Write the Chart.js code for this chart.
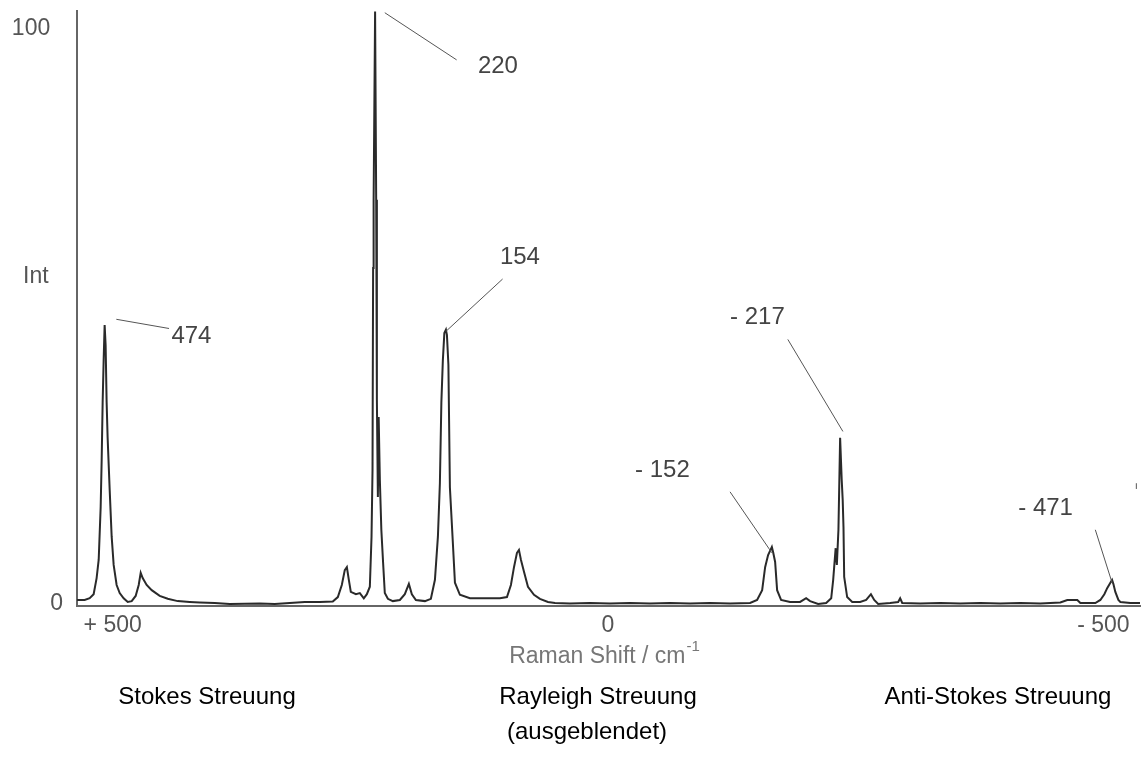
<!DOCTYPE html>
<html>
<head>
<meta charset="utf-8">
<title>Raman Spektrum</title>
<script src="https://cdn.jsdelivr.net/npm/chart.js@4.4.0/dist/chart.umd.min.js"></script>
<style>
  html, body { margin: 0; padding: 0; background: #fff; }
  #wrap { width: 1142px; height: 767px; }
</style>
</head>
<body>
<div id="wrap"><canvas id="raman" width="1142" height="767"></canvas></div>
<script>
// Raman shift in cm-1 (+500 left ... -500 right)
var ramanShift = [
  536.4, 528.3, 523.2, 519.2, 516.2, 514.1, 512.1, 511.1, 510.1, 509.1,
  508.1, 507.1, 506.1, 505.1, 503.0, 501.0, 499.0, 496.0, 492.9, 488.9,
  484.8, 480.8, 476.8, 473.7, 471.7, 469.7, 465.7, 460.6, 452.5, 444.4,
  434.3, 422.2, 412.1, 397.0, 381.8, 366.7, 351.5, 336.4, 321.2, 306.1,
  290.9, 277.8, 272.7, 268.7, 265.7, 263.6, 261.6, 259.6, 254.5, 250.5,
  246.5, 243.4, 240.4, 238.7, 237.7, 237.1, 236.6, 235.1, 234.0, 233.3,
  232.3, 231.5, 230.3, 228.8, 227.0, 225.3, 222.2, 217.2, 210.1, 205.1,
  201.0, 198.0, 193.9, 184.8, 178.8, 174.7, 171.7, 169.7, 168.2, 166.7,
  165.2, 163.6, 162.6, 161.1, 159.6, 156.6, 154.5, 149.5, 139.4, 129.3,
  119.2, 109.1, 102.0, 98.0, 94.9, 91.9, 89.9, 87.9, 84.8, 80.8,
  74.7, 68.7, 60.6, 53.5, 38.4, 18.2, -2.0, -22.2, -42.4, -62.6,
  -82.8, -103.0, -123.2, -143.4, -150.5, -155.6, -158.6, -161.6, -165.4, -166.7,
  -168.7, -170.7, -174.7, -183.8, -193.9, -200.0, -204.0, -212.1, -220.2, -225.3,
  -227.3, -228.6, -229.8, -231.0, -232.6, -234.3, -235.9, -236.9, -237.7, -238.4,
  -241.4, -246.5, -254.5, -260.6, -265.4, -268.7, -272.7, -284.8, -292.9, -294.9,
  -297.0, -315.2, -335.4, -355.6, -375.8, -396.0, -416.2, -436.4, -456.6, -463.6,
  -473.7, -476.8, -491.9, -497.0, -501.0, -504.0, -507.1, -508.8, -510.1, -512.1,
  -515.2, -517.2, -527.3, -537.4
];

// intensity, 0..100
var intensity = [
  0.7, 0.7, 1.0, 1.7, 4.5, 7.7, 16.9, 25.0, 35.1, 42.4,
  48.5, 45.0, 35.1, 29.0, 19.8, 11.7, 6.8, 3.3, 1.9, 1.0,
  0.35, 0.5, 1.4, 3.3, 5.4, 4.5, 3.3, 2.4, 1.4, 0.9,
  0.5, 0.35, 0.26, 0.17, 0.0, 0.05, 0.1, 0.0, 0.17, 0.35,
  0.35, 0.43, 1.2, 3.3, 5.9, 6.4, 4.2, 2.1, 1.7, 1.9,
  1.0, 1.7, 3.0, 11.7, 23.3, 58.4, 70.1, 103.0, 70.3, 35.5,
  18.6, 32.5, 21.6, 12.9, 7.1, 1.9, 0.9, 0.5, 0.7, 1.7,
  3.5, 1.7, 0.7, 0.5, 0.9, 4.2, 11.7, 21.0, 35.1, 42.4,
  47.1, 47.7, 46.8, 41.6, 20.3, 10.6, 3.7, 1.6, 1.0, 1.0,
  1.0, 1.0, 1.2, 3.3, 6.4, 8.9, 9.4, 7.7, 5.6, 3.0,
  1.6, 0.9, 0.35, 0.17, 0.1, 0.17, 0.1, 0.17, 0.1, 0.17,
  0.1, 0.17, 0.1, 0.17, 0.7, 2.4, 6.4, 8.5, 9.9, 9.0,
  7.3, 2.4, 0.7, 0.35, 0.35, 1.0, 0.5, 0.0, 0.17, 1.0,
  4.2, 7.1, 9.7, 6.8, 12.9, 28.9, 21.6, 18.1, 13.4, 4.7,
  1.2, 0.35, 0.35, 0.7, 1.7, 0.7, 0.0, 0.17, 0.35, 1.0,
  0.17, 0.1, 0.17, 0.1, 0.17, 0.1, 0.17, 0.1, 0.26, 0.7,
  0.7, 0.17, 0.17, 0.7, 1.7, 2.8, 3.7, 4.2, 3.5, 2.1,
  0.7, 0.35, 0.17, 0.17
];

var xTicks = [500, 0, -500];
var yTicks = [0, 100];

var peakLabels = ['474', '220', '154', '- 152', '- 217', '- 471'];
var regionLabels = ['Stokes Streuung', 'Rayleigh Streuung', 'Anti-Stokes Streuung'];

// label anchor (left / middle) and leader line for each peak, in axis units
var labelAt = [[440.7, 46.6], [131.3, 93.4], [109.1, 60.2], [-27.3, 23.3], [-123.2, 49.9], [-414.1, 16.7]];
var leaders = [
  [[496.3, 49.5], [443.1, 47.9]],
  [[225.3, 102.8], [152.8, 94.6]],
  [[163.6, 47.4], [106.4, 56.5]],
  [[-123.2, 19.5], [-165.4, 8.9]],
  [[-181.5, 46.0], [-237.1, 30.0]],
  [[-491.9, 12.9], [-508.8, 3.7]],
  [[-533.3, 21.0], [-533.3, 20.0]]
];

var FONT = '"Liberation Sans", Arial, sans-serif';

var annotate = {
  id: 'annotate',
  afterDraw: function (chart) {
    var ctx = chart.ctx;
    var sx = chart.scales.x, sy = chart.scales.y;
    ctx.save();

    ctx.strokeStyle = '#555';
    ctx.lineWidth = 1;
    leaders.forEach(function (l) {
      ctx.beginPath();
      ctx.moveTo(sx.getPixelForValue(l[0][0]), sy.getPixelForValue(l[0][1]));
      ctx.lineTo(sx.getPixelForValue(l[1][0]), sy.getPixelForValue(l[1][1]));
      ctx.stroke();
    });

    ctx.font = '24px ' + FONT;
    ctx.fillStyle = '#444';
    ctx.textAlign = 'left';
    ctx.textBaseline = 'middle';
    peakLabels.forEach(function (t, i) {
      ctx.fillText(t, sx.getPixelForValue(labelAt[i][0]), sy.getPixelForValue(labelAt[i][1]));
    });

    // y axis name sits beside the axis, not rotated
    ctx.font = '23px ' + FONT;
    ctx.fillStyle = '#555';
    ctx.fillText('Int', 23, sy.getPixelForValue(56.9));

    // x axis title with superscript
    var main = 'Raman Shift / cm', sup = '-1';
    ctx.font = '23px ' + FONT;
    var w1 = ctx.measureText(main).width;
    ctx.font = '15px ' + FONT;
    var w2 = ctx.measureText(sup).width;
    var x0 = 604 - (w1 + w2) / 2;
    ctx.fillStyle = '#777';
    ctx.font = '23px ' + FONT;
    ctx.fillText(main, x0, 657);
    ctx.font = '15px ' + FONT;
    ctx.fillText(sup, x0 + w1 + 1, 647);

    // region names under the axis
    ctx.fillStyle = '#000';
    ctx.font = '24px ' + FONT;
    ctx.textAlign = 'center';
    var cx = [207, 598, 998];
    regionLabels.forEach(function (t, i) {
      ctx.fillText(t, cx[i], 697);
    });
    ctx.fillText('(ausgeblendet)', 587, 732);

    ctx.restore();
  }
};

function noPad(scale) {
  scale.paddingTop = 0;
  scale.paddingBottom = 0;
  scale.paddingLeft = 0;
  scale.paddingRight = 0;
}

var ctx = document.getElementById('raman');

var chart = new Chart(ctx, {
  type: 'line',
  data: {
    datasets: [{
      label: 'Int',
      data: ramanShift.map(function (s, i) { return { x: s, y: intensity[i] }; }),
      borderColor: '#2a2a2a',
      borderWidth: 2,
      pointRadius: 0,
      tension: 0,
      fill: false
    }]
  },
  options: {
    responsive: false,
    animation: false,
    layout: { padding: { top: 11, right: 2, left: 0, bottom: 0 } },
    plugins: {
      legend: { display: false },
      tooltip: { enabled: false }
    },
    scales: {
      x: {
        type: 'linear',
        reverse: true,
        min: -537,
        max: 536,
        grid: { display: false, drawTicks: false },
        border: { display: true, color: '#666', width: 2 },
        afterFit: function (scale) { scale.height = 161; noPad(scale); },
        afterBuildTicks: function (axis) {
          axis.ticks = xTicks.map(function (v) { return { value: v }; });
        },
        ticks: {
          autoSkip: false,
          maxRotation: 0,
          padding: 6,
          color: '#555',
          font: { family: FONT, size: 23 },
          callback: function (v) {
            if (v > 0) return '+ ' + v;
            if (v < 0) return '- ' + (-v);
            return '0';
          }
        }
      },
      y: {
        min: -0.35,
        max: 103.1,
        grid: { display: false, drawTicks: false },
        border: { display: true, color: '#666', width: 2 },
        afterFit: function (scale) { scale.width = 77; noPad(scale); },
        afterBuildTicks: function (axis) {
          axis.ticks = yTicks.map(function (v) { return { value: v }; });
        },
        ticks: {
          padding: 14,
          color: '#555',
          font: { family: FONT, size: 23 },
          // the 100 sits a little further left than the 0
          callback: function (v) { return v === 100 ? '100\u00a0\u00a0' : String(v); }
        }
      }
    }
  },
  plugins: [annotate]
});
</script>
</body>
</html>
